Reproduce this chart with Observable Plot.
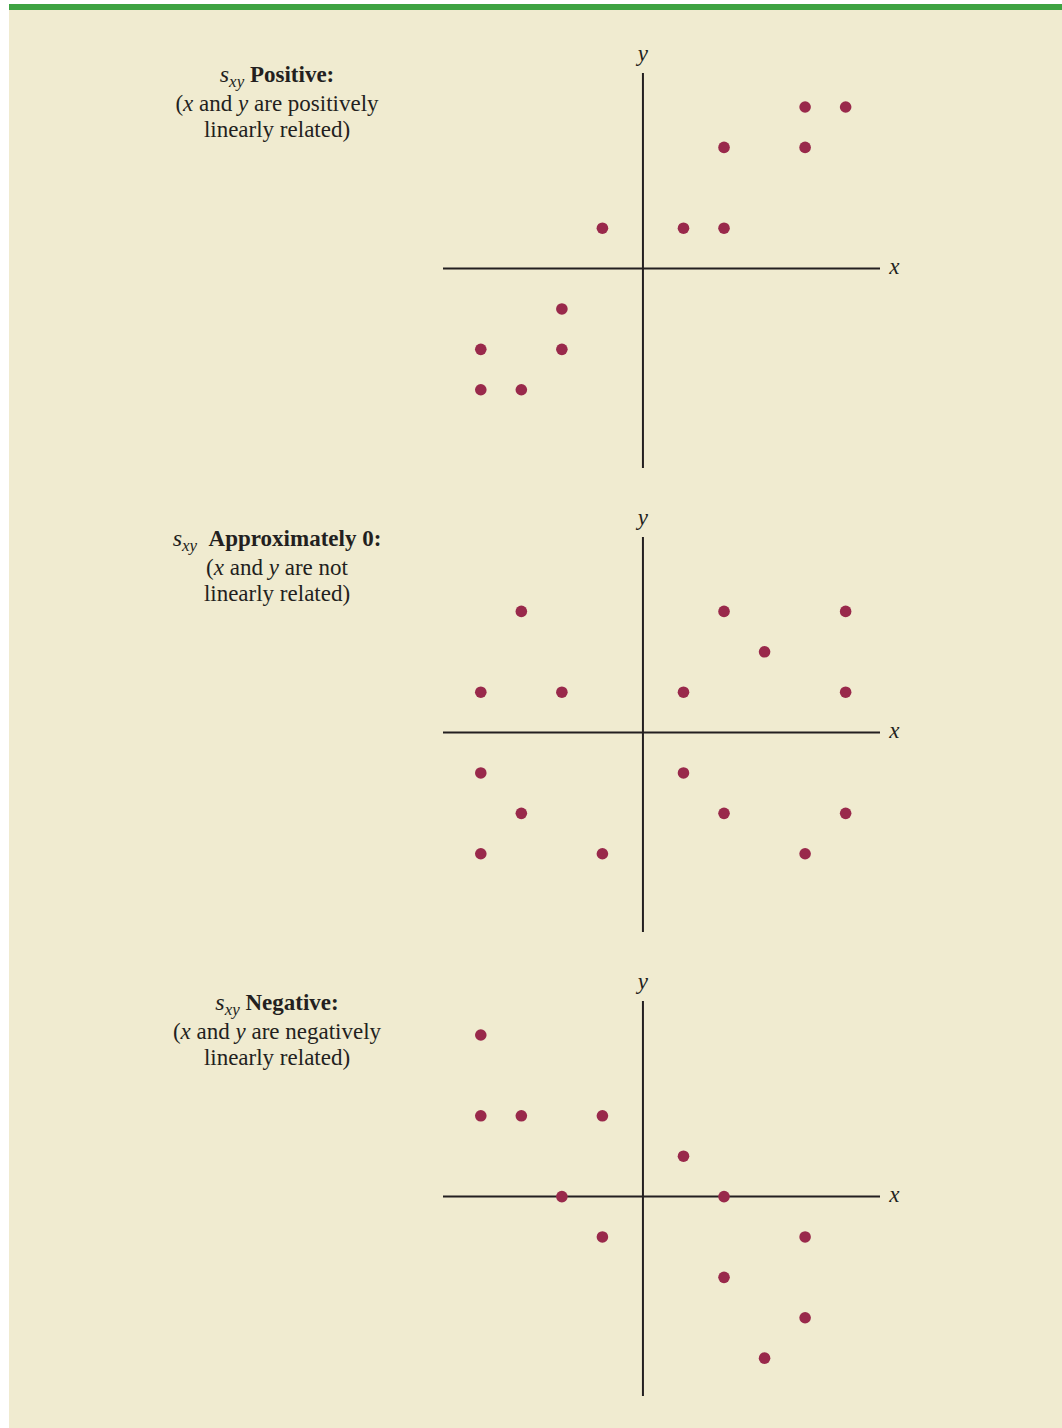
<!DOCTYPE html>
<html><head><meta charset="utf-8">
<script src="https://cdn.jsdelivr.net/npm/d3@7"></script>
<script src="https://cdn.jsdelivr.net/npm/@observablehq/plot@0.6"></script>
<style>
body{margin:0;background:#fff;}
#page{position:relative;width:1062px;height:1428px;overflow:hidden;background:#fff;}
#bg{position:absolute;left:9px;top:4px;right:0;bottom:0;background:#F0EBD0;}
#bar{position:absolute;left:9px;top:4px;right:0;height:6px;background:#3EA343;}
.label{position:absolute;left:117px;width:320px;text-align:center;font-family:"Liberation Serif","Times New Roman",serif;font-size:23px;line-height:26.5px;color:#231F20;}
.label b{font-weight:bold;}
.s{font-style:italic;font-size:24px;}
.sub{position:relative;top:5px;font-size:17px;font-style:italic;}
.panel{position:absolute;left:0;}
</style></head>
<body>
<div id="page"><div id="bg"></div><div id="bar"></div></div>
<script>
// Data (grid units)
const positiveX = [4, 5, 2, 4, -1, 1, 2, -2, -4, -2, -4, -3];
const positiveY = [4, 4, 3, 3, 1, 1, 1, -1, -2, -2, -3, -3];
const zeroX = [-3, 2, 5, 3, -4, -2, 1, 5, -4, 1, -3, 2, 5, -4, -1, 4];
const zeroY = [3, 3, 3, 2, 1, 1, 1, 1, -1, -1, -2, -2, -2, -3, -3, -3];
const negativeX = [-4, -4, -3, -1, 1, -2, 2, -1, 4, 2, 4, 3];
const negativeY = [4, 2, 2, 2, 1, 0, 0, -1, -1, -2, -3, -4];
const axisX = [-4.92, 5.86];
const axisY = [-4.95, 4.83];
const titles = ["Positive:", "Approximately 0:", "Negative:"];
const relations = ["are positively", "are not", "are negatively"];
const lastLine = "linearly related)";

const page = document.getElementById("page");
const ink = "#231F20";
const dotColor = "#99294B";

function panel(xs, ys) {
  const data = xs.map((x, k) => ({x, y: ys[k]}));
  return Plot.plot({
    width: 1062, height: 464,
    marginLeft: 443, marginRight: 182, marginTop: 63, marginBottom: 6,
    x: {domain: axisX, axis: null},
    y: {domain: axisY, axis: null},
    style: {background: "transparent", overflow: "visible"},
    marks: [
      Plot.ruleY([0], {x1: axisX[0], x2: axisX[1], stroke: ink, strokeWidth: 2}),
      Plot.ruleX([0], {y1: axisY[0], y2: axisY[1], stroke: ink, strokeWidth: 2}),
      Plot.dot(data, {x: "x", y: "y", r: 5.8, fill: dotColor, stroke: "none"}),
      Plot.text(["y"], {x: 0, y: 5.31, text: d => d, fontFamily: "Liberation Serif", fontStyle: "italic", fontSize: 23, fill: ink}),
      Plot.text(["x"], {x: 6.2, y: 0.05, text: d => d, fontFamily: "Liberation Serif", fontStyle: "italic", fontSize: 23, fill: ink})
    ]
  });
}

const sets = [[positiveX, positiveY], [zeroX, zeroY], [negativeX, negativeY]];
sets.forEach(([xs, ys], i) => {
  const svg = panel(xs, ys);
  svg.classList.add("panel");
  svg.style.top = (10 + 464 * i) + "px";
  page.appendChild(svg);
  const lab = document.createElement("div");
  lab.className = "label";
  lab.style.top = (61 + 464 * i) + "px";
  const gap = i === 1 ? "&nbsp;&nbsp;" : "&nbsp;";
  lab.innerHTML = `<span class="s">s</span><span class="sub">xy</span>${gap}<b>${titles[i]}</b><br>(<i>x</i> and <i>y</i> ${relations[i]}<br>${lastLine}`;
  page.appendChild(lab);
});
</script>
</body></html>
